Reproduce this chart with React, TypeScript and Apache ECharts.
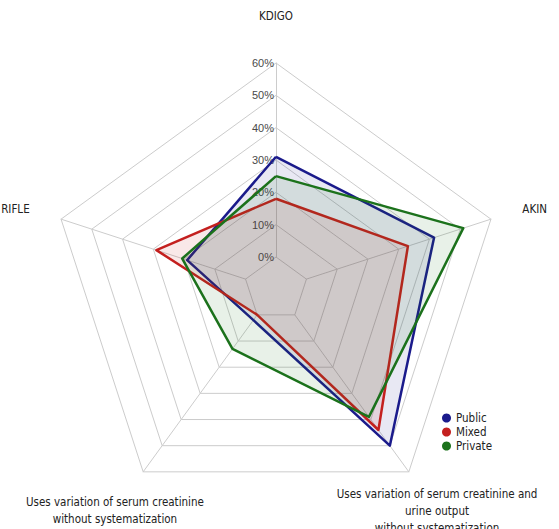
import React, { useEffect, useRef } from "react";
import * as echarts from "echarts";

const indicatorNames = [
  "KDIGO",
  "RIFLE",
  "Uses variation of serum creatinine\nwithout systematization",
  "Uses variation of serum creatinine and\nurine output\nwithout systematization",
  "AKIN",
];
const seriesNames = ["Public", "Mixed", "Private"];
const publicValues = [31, 19, 2, 50, 41.5];
const mixedValues = [18, 29, 0, 44, 33];
const privateValues = [25, 20.6, 13, 39, 51];
const seriesColors = ["#1b1b8c", "#c4201f", "#1c721c"];
const axisMin = 0;
const axisMax = 60;
const axisInterval = 10;

const NARROW = "'DejaVu Sans Condensed', 'Liberation Sans Narrow', sans-serif";

export default function App() {
  const ref = useRef<HTMLDivElement>(null);
  useEffect(() => {
    if (!ref.current) return;
    const chart = echarts.init(ref.current, undefined, { renderer: "svg" });
    const values = [publicValues, mixedValues, privateValues];
    const nameGaps = [41, 33, 48, 48, 33];
    const indicator = indicatorNames.map((name, i) => {
      const ind: any = {
        name,
        min: axisMin,
        max: axisMax,
        nameGap: nameGaps[i],
      };
      if (i === 2 || i === 3) {
        ind.nameTextStyle = { align: "center", verticalAlign: "middle", lineHeight: 17 };
      }
      if (i === 0) {
        ind.axisLabel = {
          show: true,
          formatter: (v: number) => `${v}%`,
          color: "#4a4a4a",
          fontSize: 11,
          fontFamily: "'Liberation Sans', Arial, sans-serif",
          margin: 2,
        };
      }
      return ind;
    });
    chart.setOption({
      animation: false,
      backgroundColor: "#ffffff",
      legend: {
        orient: "vertical",
        left: 437,
        top: 407,
        padding: 5,
        icon: "circle",
        itemWidth: 9,
        itemHeight: 9,
        itemGap: 2,
        data: seriesNames,
        textStyle: { fontSize: 11.5, fontFamily: NARROW, color: "#222" },
      },
      radar: {
        center: [276, 289],
        radius: [32, 226],
        startAngle: 90,
        shape: "polygon",
        splitNumber: (axisMax - axisMin) / axisInterval,
        indicator,
        axisName: {
          color: "#222",
          fontSize: 11.5,
          fontFamily: NARROW,
        },
        axisLine: { lineStyle: { color: "#cccccc", width: 1 } },
        splitLine: { lineStyle: { color: "#cccccc", width: 1 } },
        splitArea: { show: false },
        axisTick: { show: false },
        axisLabel: { show: false },
      },
      series: [
        {
          type: "radar",
          symbol: "none",
          data: seriesNames.map((name, i) => ({
            name,
            value: values[i],
            lineStyle: { color: seriesColors[i], width: 2.5 },
            itemStyle: { color: seriesColors[i] },
            areaStyle: { color: seriesColors[i], opacity: 0.1 },
          })),
        },
      ],
    });
    return () => chart.dispose();
  }, []);
  return (
    <div
      ref={ref}
      style={{ position: "fixed", left: 0, top: 0, width: 559, height: 529 }}
    />
  );
}
